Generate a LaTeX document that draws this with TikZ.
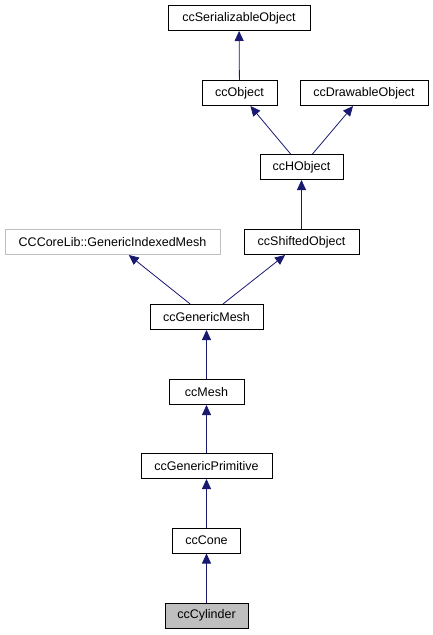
\documentclass[tikz,border=0pt]{standalone}
\usepackage{fontspec}
\setmainfont{Liberation Sans}
\usetikzlibrary{arrows.meta}
\definecolor{edgeblue}{RGB}{25,25,112}
\definecolor{extgray}{RGB}{191,191,191}

\begin{document}
\begin{tikzpicture}[x=1pt,y=-1pt]
        \tikzstyle{every node}=[font=\fontsize{12.5}{15}\selectfont]
        \tikzstyle{cls}=[draw=black, line width=1pt, minimum height=25pt, inner sep=0pt]
        \tikzstyle{extcls}=[cls, draw=extgray]
        \tikzstyle{curcls}=[cls, fill=extgray]
        \tikzstyle{inherit}=[draw=edgeblue, line width=0.8pt, -{Triangle[length=10pt,width=9pt,fill=edgeblue]}]

        \useasboundingbox (0,0) rectangle (433,635);

        \node[cls, minimum width=142pt] (serial) at (239,18) {ccSerializableObject};
        \node[cls, minimum width=75pt] (object) at (239.5,93) {ccObject};
        \node[cls, minimum width=128pt] (drawable) at (364,93) {ccDrawableObject};
        \node[cls, minimum width=83pt] (hobject) at (301.5,167) {ccHObject};
        \node[extcls, minimum width=215pt] (indexed) at (112.5,242) {CCCoreLib::GenericIndexedMesh};
        \node[cls, minimum width=115pt] (shifted) at (301.5,242) {ccShiftedObject};
        \node[cls, minimum width=113pt] (genmesh) at (206.5,317) {ccGenericMesh};
        \node[cls, minimum width=75pt] (mesh) at (206.5,392) {ccMesh};
        \node[cls, minimum width=131pt] (genprim) at (206.5,466) {ccGenericPrimitive};
        \node[cls, minimum width=68pt] (cone) at (206.5,540.5) {ccCone};
        \node[curcls, minimum width=83pt] (cylinder) at (206.5,615.5) {ccCylinder};

        \draw[inherit] (object) -- (serial);
        \draw[inherit] (hobject) -- (object);
        \draw[inherit] (hobject) -- (drawable);
        \draw[inherit] (shifted) -- (hobject);
        \draw[inherit] (genmesh) -- (indexed);
        \draw[inherit] (genmesh) -- (shifted);
        \draw[inherit] (mesh) -- (genmesh);
        \draw[inherit] (genprim) -- (mesh);
        \draw[inherit] (cone) -- (genprim);
        \draw[inherit] (cylinder) -- (cone);

    \end{tikzpicture}
\end{document}
